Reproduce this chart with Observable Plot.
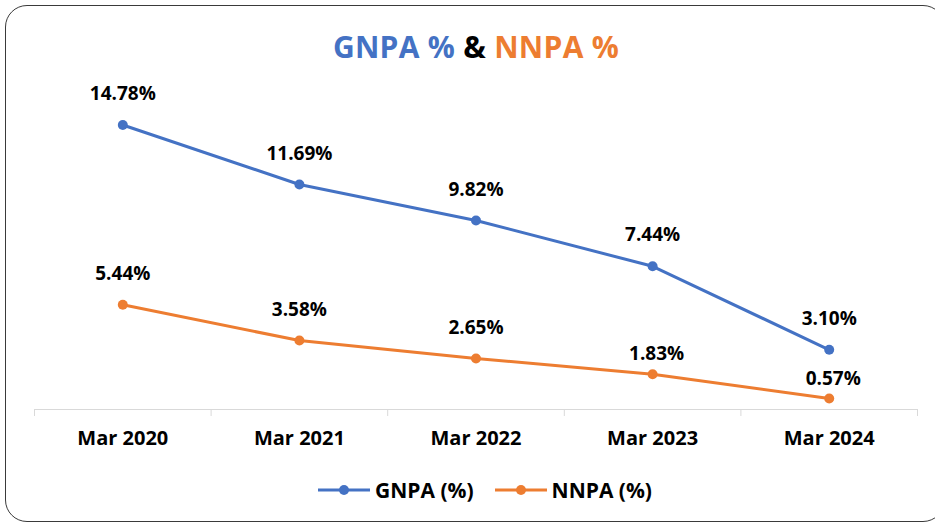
<!DOCTYPE html>
<html>
<head>
<meta charset="utf-8">
<script src="https://cdn.jsdelivr.net/npm/d3@7"></script>
<script src="https://cdn.jsdelivr.net/npm/@observablehq/plot@0.6"></script>
<style>
  body { margin: 0; background: #fff; font-family: "Open Sans", sans-serif; }
  #wrap { position: relative; width: 935px; height: 526px; overflow: hidden; background: #fff; }
  #frame { position: absolute; left: 5px; top: 5px; width: 940px; height: 517px; border: 1.5px solid #3a3a3a; border-radius: 22px; box-sizing: border-box; }
  #title { position: absolute; top: 25px; left: 476px; transform: translateX(-50%); white-space: nowrap; font-weight: 700; font-size: 30px; letter-spacing: 0.3px; line-height: 44px; }
  #chart { position: absolute; left: 0; top: 0; }
  #legend { position: absolute; top: 476px; left: 318px; display: flex; align-items: center; font-weight: 700; font-size: 21px; white-space: nowrap; line-height: 28px; }
  #legend .item { display: flex; align-items: center; margin-right: 21px; }
  #legend svg { margin-right: 5px; }
</style>
</head>
<body>
<div id="wrap">
  <div id="frame"></div>
  <div id="title"><span style="color:#4472C4">GNPA %</span> <span style="color:#000">&amp;</span> <span style="color:#ED7D31">NNPA %</span></div>
  <div id="chart"></div>
  <div id="legend"></div>
</div>
<script>
const categories = ["Mar 2020", "Mar 2021", "Mar 2022", "Mar 2023", "Mar 2024"];
const gnpa = [14.78, 11.69, 9.82, 7.44, 3.10];
const nnpa = [5.44, 3.58, 2.65, 1.83, 0.57];
const seriesNames = ["GNPA (%)", "NNPA (%)"];
const seriesColors = ["#4472C4", "#ED7D31"];

const rows = [];
categories.forEach((c, i) => {
  rows.push({series: seriesNames[0], i, value: gnpa[i]});
  rows.push({series: seriesNames[1], i, value: nnpa[i]});
});
const boundaries = [...categories.map((c, i) => i - 0.5), categories.length - 0.5];
const fmt = v => v.toFixed(2) + "%";
const crowded = d => d.series === seriesNames[1] && d.i >= 3;

const chart = Plot.plot({
  width: 935,
  height: 460,
  marginTop: 101,
  marginBottom: 51,
  marginLeft: 34,
  marginRight: 18,
  style: {fontFamily: "'Open Sans', sans-serif", background: "transparent"},
  x: {type: "linear", domain: [-0.5, categories.length - 0.5], label: null},
  y: {domain: [0, 16], axis: null},
  color: {domain: seriesNames, range: seriesColors},
  marks: [
    Plot.ruleY([0], {stroke: "#d9d9d9", strokeWidth: 1}),
    Plot.axisX({ticks: boundaries, tickSize: 7, tickFormat: () => "", stroke: "#d9d9d9", label: null}),
    Plot.axisX({ticks: categories.map((c, i) => i), tickSize: 0, tickPadding: 21,
      tickFormat: i => categories[i], fontSize: 20, fontWeight: 700, fill: "#000", label: null}),
    Plot.lineY(rows, {x: "i", y: "value", z: "series", stroke: "series", strokeWidth: 3}),
    Plot.dot(rows, {x: "i", y: "value", fill: "series", r: 5}),
    Plot.text(rows.filter(d => !crowded(d)), {x: "i", y: "value", text: d => fmt(d.value), dy: -31,
      fontSize: 19, fontWeight: 700, fill: "#000"}),
    Plot.text(rows.filter(crowded), {x: "i", y: "value", text: d => fmt(d.value), dy: -20, dx: 4,
      fontSize: 19, fontWeight: 700, fill: "#000"})
  ]
});
document.getElementById("chart").appendChild(chart);

const legend = document.getElementById("legend");
seriesNames.forEach((name, k) => {
  const item = document.createElement("div");
  item.className = "item";
  item.innerHTML = `<svg width="52" height="12"><line x1="0" y1="6" x2="52" y2="6" stroke="${seriesColors[k]}" stroke-width="3"/><circle cx="26" cy="6" r="5" fill="${seriesColors[k]}"/></svg><span>${name}</span>`;
  legend.appendChild(item);
});
</script>
</body>
</html>
